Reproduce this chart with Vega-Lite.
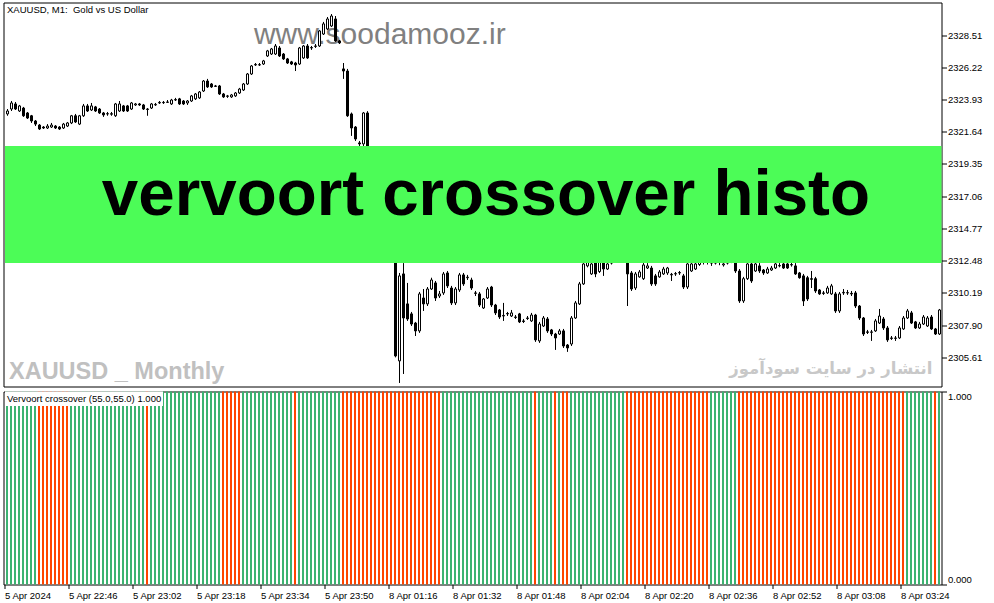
{
"$schema":"https://vega.github.io/schema/vega-lite/v6.json",
"background":"white",
"padding":{"left":2.5,"top":1.5,"right":0,"bottom":0},
"config":{"view":{"stroke":"black","strokeWidth":1},"axis":{"labelFont":"Liberation Sans","labelFontSize":9.5,"labelColor":"black","tickColor":"black","grid":false,"domain":false,"title":null,"labelOverlap":false},"axisY":{"labelOverlap":false,"labelSeparation":0}},
"datasets":{"k":[
{"i":0,"o":2322.90,"h":2323.25,"l":2322.77,"c":2323.11,"s":"g","v":1},
{"i":1,"o":2323.25,"h":2323.82,"l":2323.11,"c":2323.68,"s":"g","v":1},
{"i":2,"o":2323.61,"h":2323.75,"l":2323.18,"c":2323.25,"s":"g","v":1},
{"i":3,"o":2323.11,"h":2323.54,"l":2323.04,"c":2323.47,"s":"g","v":1},
{"i":4,"o":2323.32,"h":2323.40,"l":2322.69,"c":2322.77,"s":"g","v":1},
{"i":5,"o":2322.97,"h":2323.04,"l":2322.54,"c":2322.61,"s":"g","v":1},
{"i":6,"o":2322.77,"h":2322.83,"l":2322.26,"c":2322.40,"s":"g","v":1},
{"i":7,"o":2322.40,"h":2322.47,"l":2322.04,"c":2322.18,"s":"g","v":1},
{"i":8,"o":2322.11,"h":2322.18,"l":2321.76,"c":2321.83,"s":"r","v":1},
{"i":9,"o":2321.97,"h":2322.04,"l":2321.83,"c":2321.90,"s":"r","v":1},
{"i":10,"o":2321.90,"h":2322.18,"l":2321.83,"c":2322.04,"s":"r","v":1},
{"i":11,"o":2321.97,"h":2322.26,"l":2321.90,"c":2322.11,"s":"r","v":1},
{"i":12,"o":2322.04,"h":2322.11,"l":2321.83,"c":2321.90,"s":"r","v":1},
{"i":13,"o":2321.97,"h":2322.04,"l":2321.76,"c":2321.83,"s":"r","v":1},
{"i":14,"o":2321.90,"h":2322.26,"l":2321.83,"c":2322.18,"s":"r","v":1},
{"i":15,"o":2322.04,"h":2322.33,"l":2321.97,"c":2322.26,"s":"r","v":1},
{"i":16,"o":2322.26,"h":2322.83,"l":2322.18,"c":2322.77,"s":"g","v":1},
{"i":17,"o":2322.77,"h":2322.90,"l":2322.26,"c":2322.33,"s":"g","v":1},
{"i":18,"o":2322.18,"h":2322.83,"l":2322.11,"c":2322.77,"s":"g","v":1},
{"i":19,"o":2322.77,"h":2323.61,"l":2322.69,"c":2323.47,"s":"g","v":1},
{"i":20,"o":2323.47,"h":2323.61,"l":2323.04,"c":2323.11,"s":"g","v":1},
{"i":21,"o":2323.18,"h":2323.68,"l":2323.11,"c":2323.47,"s":"g","v":1},
{"i":22,"o":2323.40,"h":2323.47,"l":2323.04,"c":2323.11,"s":"g","v":1},
{"i":23,"o":2323.25,"h":2323.32,"l":2322.90,"c":2322.97,"s":"g","v":1},
{"i":24,"o":2322.97,"h":2323.04,"l":2322.69,"c":2322.83,"s":"g","v":1},
{"i":25,"o":2322.90,"h":2323.04,"l":2322.77,"c":2322.92,"s":"g","v":1},
{"i":26,"o":2322.88,"h":2323.04,"l":2322.77,"c":2322.92,"s":"g","v":1},
{"i":27,"o":2322.77,"h":2323.68,"l":2322.69,"c":2323.61,"s":"g","v":1},
{"i":28,"o":2323.11,"h":2323.82,"l":2323.04,"c":2323.61,"s":"g","v":1},
{"i":29,"o":2323.47,"h":2323.54,"l":2323.04,"c":2323.11,"s":"g","v":1},
{"i":30,"o":2323.47,"h":2323.54,"l":2323.04,"c":2323.11,"s":"g","v":1},
{"i":31,"o":2323.25,"h":2323.75,"l":2323.18,"c":2323.68,"s":"g","v":1},
{"i":32,"o":2323.54,"h":2323.68,"l":2323.47,"c":2323.61,"s":"g","v":1},
{"i":33,"o":2323.61,"h":2323.68,"l":2323.47,"c":2323.54,"s":"g","v":1},
{"i":34,"o":2323.54,"h":2323.61,"l":2323.18,"c":2323.25,"s":"g","v":1},
{"i":35,"o":2323.25,"h":2323.32,"l":2322.77,"c":2323.22,"s":"r","v":1},
{"i":36,"o":2323.32,"h":2323.68,"l":2323.25,"c":2323.61,"s":"g","v":1},
{"i":37,"o":2323.54,"h":2323.68,"l":2323.47,"c":2323.58,"s":"g","v":1},
{"i":38,"o":2323.68,"h":2323.82,"l":2323.61,"c":2323.72,"s":"g","v":1},
{"i":39,"o":2323.72,"h":2323.82,"l":2323.61,"c":2323.70,"s":"g","v":1},
{"i":40,"o":2323.72,"h":2323.89,"l":2323.68,"c":2323.75,"s":"g","v":1},
{"i":41,"o":2323.61,"h":2323.97,"l":2323.54,"c":2323.89,"s":"g","v":1},
{"i":42,"o":2323.89,"h":2324.04,"l":2323.82,"c":2323.92,"s":"g","v":1},
{"i":43,"o":2323.97,"h":2324.04,"l":2323.54,"c":2323.61,"s":"g","v":1},
{"i":44,"o":2323.82,"h":2323.89,"l":2323.54,"c":2323.61,"s":"g","v":1},
{"i":45,"o":2323.68,"h":2323.89,"l":2323.54,"c":2323.82,"s":"g","v":1},
{"i":46,"o":2323.82,"h":2324.25,"l":2323.75,"c":2324.18,"s":"g","v":1},
{"i":47,"o":2323.97,"h":2324.39,"l":2323.89,"c":2324.32,"s":"g","v":1},
{"i":48,"o":2324.04,"h":2324.53,"l":2323.97,"c":2324.46,"s":"g","v":1},
{"i":49,"o":2324.53,"h":2325.31,"l":2324.46,"c":2325.24,"s":"g","v":1},
{"i":50,"o":2325.24,"h":2325.39,"l":2324.75,"c":2324.82,"s":"g","v":1},
{"i":51,"o":2325.03,"h":2325.10,"l":2324.75,"c":2324.82,"s":"g","v":1},
{"i":52,"o":2324.89,"h":2324.96,"l":2324.82,"c":2324.86,"s":"g","v":1},
{"i":53,"o":2324.89,"h":2324.96,"l":2324.25,"c":2324.32,"s":"g","v":1},
{"i":54,"o":2324.32,"h":2324.39,"l":2324.04,"c":2324.11,"s":"r","v":1},
{"i":55,"o":2324.15,"h":2324.25,"l":2324.04,"c":2324.18,"s":"r","v":1},
{"i":56,"o":2324.11,"h":2324.32,"l":2324.04,"c":2324.25,"s":"r","v":1},
{"i":57,"o":2324.18,"h":2324.46,"l":2324.11,"c":2324.39,"s":"r","v":1},
{"i":58,"o":2324.39,"h":2324.75,"l":2324.32,"c":2324.67,"s":"r","v":1},
{"i":59,"o":2324.60,"h":2325.10,"l":2324.53,"c":2325.03,"s":"g","v":1},
{"i":60,"o":2325.03,"h":2325.81,"l":2324.96,"c":2325.74,"s":"g","v":1},
{"i":61,"o":2325.74,"h":2326.38,"l":2325.67,"c":2326.31,"s":"g","v":1},
{"i":62,"o":2326.38,"h":2326.52,"l":2326.31,"c":2326.42,"s":"g","v":1},
{"i":63,"o":2326.40,"h":2326.52,"l":2326.31,"c":2326.38,"s":"g","v":1},
{"i":64,"o":2326.45,"h":2326.74,"l":2326.38,"c":2326.67,"s":"g","v":1},
{"i":65,"o":2327.02,"h":2327.45,"l":2326.95,"c":2327.38,"s":"g","v":1},
{"i":66,"o":2327.16,"h":2327.59,"l":2327.09,"c":2327.52,"s":"g","v":1},
{"i":67,"o":2327.16,"h":2327.87,"l":2327.09,"c":2327.73,"s":"g","v":1},
{"i":68,"o":2327.59,"h":2327.73,"l":2326.95,"c":2327.02,"s":"g","v":1},
{"i":69,"o":2327.16,"h":2327.23,"l":2326.74,"c":2326.81,"s":"g","v":1},
{"i":70,"o":2326.81,"h":2326.88,"l":2326.45,"c":2326.52,"s":"g","v":1},
{"i":71,"o":2326.60,"h":2326.67,"l":2326.38,"c":2326.45,"s":"g","v":1},
{"i":72,"o":2326.52,"h":2326.60,"l":2325.95,"c":2326.38,"s":"r","v":1},
{"i":73,"o":2326.45,"h":2327.66,"l":2326.38,"c":2327.59,"s":"g","v":1},
{"i":74,"o":2326.88,"h":2327.80,"l":2326.81,"c":2327.73,"s":"g","v":1},
{"i":75,"o":2327.73,"h":2327.87,"l":2326.81,"c":2326.88,"s":"g","v":1},
{"i":76,"o":2327.59,"h":2327.73,"l":2327.45,"c":2327.62,"s":"g","v":1},
{"i":77,"o":2327.70,"h":2327.87,"l":2327.59,"c":2327.73,"s":"g","v":1},
{"i":78,"o":2327.73,"h":2328.87,"l":2327.66,"c":2328.80,"s":"g","v":1},
{"i":79,"o":2328.58,"h":2329.44,"l":2328.51,"c":2329.30,"s":"g","v":1},
{"i":80,"o":2328.94,"h":2329.79,"l":2328.87,"c":2329.65,"s":"g","v":1},
{"i":81,"o":2329.15,"h":2330.00,"l":2329.08,"c":2329.86,"s":"g","v":1},
{"i":82,"o":2329.65,"h":2329.86,"l":2328.02,"c":2328.09,"s":"g","v":1},
{"i":83,"o":2328.09,"h":2328.16,"l":2327.87,"c":2327.95,"s":"g","v":1},
{"i":84,"o":2326.10,"h":2326.52,"l":2325.39,"c":2325.95,"s":"r","v":1},
{"i":85,"o":2325.95,"h":2326.10,"l":2322.69,"c":2322.77,"s":"r","v":1},
{"i":86,"o":2322.90,"h":2323.00,"l":2321.34,"c":2321.90,"s":"r","v":1},
{"i":87,"o":2321.97,"h":2322.04,"l":2320.98,"c":2321.12,"s":"r","v":1},
{"i":88,"o":2320.84,"h":2320.98,"l":2320.62,"c":2320.77,"s":"r","v":1},
{"i":89,"o":2320.77,"h":2323.04,"l":2320.62,"c":2322.97,"s":"r","v":1},
{"i":90,"o":2322.97,"h":2323.10,"l":2319.90,"c":2320.20,"s":"r","v":1},
{"i":91,"o":2320.20,"h":2320.50,"l":2318.20,"c":2318.50,"s":"r","v":1},
{"i":92,"o":2318.50,"h":2318.80,"l":2316.60,"c":2317.00,"s":"r","v":1},
{"i":93,"o":2317.00,"h":2318.20,"l":2316.80,"c":2317.80,"s":"r","v":1},
{"i":94,"o":2317.80,"h":2318.00,"l":2315.20,"c":2315.50,"s":"r","v":1},
{"i":95,"o":2315.50,"h":2315.80,"l":2313.60,"c":2314.00,"s":"r","v":1},
{"i":96,"o":2314.00,"h":2314.30,"l":2312.50,"c":2312.80,"s":"r","v":1},
{"i":97,"o":2312.60,"h":2312.90,"l":2305.60,"c":2305.70,"s":"r","v":1},
{"i":98,"o":2305.35,"h":2311.60,"l":2303.78,"c":2311.39,"s":"r","v":1},
{"i":99,"o":2311.53,"h":2312.30,"l":2304.42,"c":2308.40,"s":"r","v":1},
{"i":100,"o":2309.40,"h":2310.89,"l":2308.19,"c":2308.33,"s":"r","v":1},
{"i":101,"o":2308.69,"h":2308.83,"l":2307.83,"c":2307.97,"s":"r","v":1},
{"i":102,"o":2308.04,"h":2308.12,"l":2307.12,"c":2307.48,"s":"r","v":1},
{"i":103,"o":2307.48,"h":2310.25,"l":2307.34,"c":2310.11,"s":"r","v":1},
{"i":104,"o":2309.82,"h":2310.46,"l":2308.90,"c":2309.40,"s":"r","v":1},
{"i":105,"o":2309.40,"h":2310.60,"l":2309.25,"c":2310.46,"s":"r","v":1},
{"i":106,"o":2310.46,"h":2311.26,"l":2310.39,"c":2311.10,"s":"r","v":1},
{"i":107,"o":2310.89,"h":2311.03,"l":2309.61,"c":2309.82,"s":"r","v":1},
{"i":108,"o":2309.96,"h":2310.32,"l":2309.82,"c":2310.11,"s":"r","v":1},
{"i":109,"o":2310.18,"h":2311.67,"l":2310.04,"c":2311.53,"s":"g","v":1},
{"i":110,"o":2311.60,"h":2311.74,"l":2310.53,"c":2310.68,"s":"g","v":1},
{"i":111,"o":2310.53,"h":2310.68,"l":2309.32,"c":2309.47,"s":"g","v":1},
{"i":112,"o":2309.47,"h":2310.60,"l":2309.32,"c":2310.46,"s":"g","v":1},
{"i":113,"o":2310.39,"h":2311.60,"l":2310.25,"c":2311.46,"s":"g","v":1},
{"i":114,"o":2311.46,"h":2311.60,"l":2310.68,"c":2310.82,"s":"g","v":1},
{"i":115,"o":2311.26,"h":2311.46,"l":2311.10,"c":2311.30,"s":"g","v":1},
{"i":116,"o":2311.10,"h":2311.26,"l":2310.39,"c":2310.53,"s":"g","v":1},
{"i":117,"o":2310.18,"h":2310.32,"l":2309.96,"c":2310.15,"s":"g","v":1},
{"i":118,"o":2310.11,"h":2310.25,"l":2309.18,"c":2309.32,"s":"g","v":1},
{"i":119,"o":2309.11,"h":2309.82,"l":2309.04,"c":2309.75,"s":"g","v":1},
{"i":120,"o":2309.82,"h":2310.60,"l":2309.75,"c":2310.46,"s":"g","v":1},
{"i":121,"o":2310.60,"h":2310.68,"l":2309.18,"c":2309.32,"s":"g","v":1},
{"i":122,"o":2309.32,"h":2309.40,"l":2308.61,"c":2308.76,"s":"g","v":1},
{"i":123,"o":2308.97,"h":2309.04,"l":2308.33,"c":2308.47,"s":"g","v":1},
{"i":124,"o":2308.54,"h":2309.47,"l":2308.19,"c":2308.58,"s":"g","v":1},
{"i":125,"o":2308.72,"h":2308.83,"l":2308.54,"c":2308.69,"s":"g","v":1},
{"i":126,"o":2308.54,"h":2308.97,"l":2308.47,"c":2308.76,"s":"g","v":1},
{"i":127,"o":2308.47,"h":2308.61,"l":2308.33,"c":2308.44,"s":"g","v":1},
{"i":128,"o":2308.69,"h":2308.76,"l":2308.04,"c":2308.12,"s":"g","v":1},
{"i":129,"o":2308.19,"h":2308.33,"l":2308.04,"c":2308.15,"s":"g","v":1},
{"i":130,"o":2308.36,"h":2308.54,"l":2308.26,"c":2308.40,"s":"g","v":1},
{"i":131,"o":2308.19,"h":2308.76,"l":2308.12,"c":2308.61,"s":"g","v":1},
{"i":132,"o":2308.61,"h":2308.69,"l":2306.70,"c":2306.84,"s":"r","v":1},
{"i":133,"o":2306.77,"h":2308.12,"l":2306.63,"c":2307.97,"s":"g","v":1},
{"i":134,"o":2307.83,"h":2308.54,"l":2307.76,"c":2308.40,"s":"g","v":1},
{"i":135,"o":2308.33,"h":2308.47,"l":2307.34,"c":2307.48,"s":"g","v":1},
{"i":136,"o":2307.55,"h":2307.62,"l":2307.12,"c":2307.26,"s":"g","v":1},
{"i":137,"o":2307.26,"h":2307.34,"l":2306.13,"c":2306.98,"s":"r","v":1},
{"i":138,"o":2307.26,"h":2307.62,"l":2307.19,"c":2307.48,"s":"g","v":1},
{"i":139,"o":2307.48,"h":2307.62,"l":2306.27,"c":2306.41,"s":"r","v":1},
{"i":140,"o":2306.48,"h":2306.55,"l":2305.99,"c":2306.27,"s":"r","v":1},
{"i":141,"o":2306.55,"h":2308.54,"l":2306.41,"c":2308.40,"s":"g","v":1},
{"i":142,"o":2308.40,"h":2309.61,"l":2308.33,"c":2309.47,"s":"g","v":1},
{"i":143,"o":2309.40,"h":2310.96,"l":2309.32,"c":2310.82,"s":"g","v":1},
{"i":144,"o":2310.82,"h":2312.45,"l":2310.75,"c":2312.24,"s":"g","v":1},
{"i":145,"o":2312.10,"h":2312.90,"l":2312.00,"c":2312.59,"s":"g","v":1},
{"i":146,"o":2311.53,"h":2312.60,"l":2311.46,"c":2312.24,"s":"g","v":1},
{"i":147,"o":2312.31,"h":2312.60,"l":2311.30,"c":2311.53,"s":"g","v":1},
{"i":148,"o":2311.70,"h":2312.80,"l":2311.60,"c":2312.50,"s":"g","v":1},
{"i":149,"o":2312.31,"h":2312.60,"l":2311.39,"c":2311.88,"s":"g","v":1},
{"i":150,"o":2311.88,"h":2312.70,"l":2311.81,"c":2312.24,"s":"g","v":1},
{"i":151,"o":2312.30,"h":2313.30,"l":2312.20,"c":2313.00,"s":"g","v":1},
{"i":152,"o":2313.00,"h":2313.80,"l":2312.80,"c":2313.50,"s":"g","v":1},
{"i":153,"o":2313.50,"h":2313.90,"l":2312.90,"c":2313.20,"s":"g","v":1},
{"i":154,"o":2313.20,"h":2313.50,"l":2312.60,"c":2312.80,"s":"g","v":1},
{"i":155,"o":2312.31,"h":2312.80,"l":2309.25,"c":2311.53,"s":"r","v":1},
{"i":156,"o":2311.60,"h":2311.74,"l":2310.32,"c":2310.46,"s":"r","v":1},
{"i":157,"o":2310.53,"h":2311.67,"l":2310.39,"c":2311.53,"s":"r","v":1},
{"i":158,"o":2311.32,"h":2311.81,"l":2311.26,"c":2311.67,"s":"r","v":1},
{"i":159,"o":2311.19,"h":2312.40,"l":2311.10,"c":2312.17,"s":"r","v":1},
{"i":160,"o":2311.95,"h":2312.30,"l":2311.88,"c":2312.10,"s":"r","v":1},
{"i":161,"o":2311.95,"h":2312.10,"l":2310.68,"c":2310.82,"s":"r","v":1},
{"i":162,"o":2311.39,"h":2311.53,"l":2310.68,"c":2310.82,"s":"r","v":1},
{"i":163,"o":2311.32,"h":2311.81,"l":2311.26,"c":2311.67,"s":"r","v":1},
{"i":164,"o":2311.53,"h":2312.03,"l":2311.46,"c":2311.88,"s":"r","v":1},
{"i":165,"o":2311.60,"h":2312.03,"l":2311.46,"c":2311.95,"s":"r","v":1},
{"i":166,"o":2311.46,"h":2311.60,"l":2311.03,"c":2311.50,"s":"r","v":1},
{"i":167,"o":2311.55,"h":2311.67,"l":2311.39,"c":2311.53,"s":"r","v":1},
{"i":168,"o":2311.60,"h":2311.74,"l":2311.46,"c":2311.63,"s":"r","v":1},
{"i":169,"o":2311.39,"h":2311.53,"l":2310.46,"c":2310.60,"s":"r","v":1},
{"i":170,"o":2310.60,"h":2312.50,"l":2310.46,"c":2312.24,"s":"r","v":1},
{"i":171,"o":2311.74,"h":2312.60,"l":2311.67,"c":2312.24,"s":"r","v":1},
{"i":172,"o":2311.88,"h":2312.70,"l":2311.81,"c":2312.24,"s":"r","v":1},
{"i":173,"o":2312.20,"h":2312.90,"l":2312.10,"c":2312.60,"s":"r","v":1},
{"i":174,"o":2312.60,"h":2312.90,"l":2312.20,"c":2312.40,"s":"r","v":1},
{"i":175,"o":2312.40,"h":2313.00,"l":2312.20,"c":2312.70,"s":"r","v":1},
{"i":176,"o":2312.70,"h":2312.90,"l":2312.10,"c":2312.30,"s":"g","v":1},
{"i":177,"o":2312.30,"h":2312.90,"l":2312.20,"c":2312.60,"s":"g","v":1},
{"i":178,"o":2312.60,"h":2312.80,"l":2312.15,"c":2312.50,"s":"g","v":1},
{"i":179,"o":2312.17,"h":2312.50,"l":2312.05,"c":2312.24,"s":"g","v":1},
{"i":180,"o":2312.30,"h":2313.00,"l":2312.20,"c":2312.80,"s":"g","v":1},
{"i":181,"o":2312.80,"h":2313.00,"l":2312.30,"c":2312.50,"s":"g","v":1},
{"i":182,"o":2312.31,"h":2312.60,"l":2311.60,"c":2311.74,"s":"g","v":1},
{"i":183,"o":2311.74,"h":2311.88,"l":2309.47,"c":2309.61,"s":"r","v":1},
{"i":184,"o":2309.61,"h":2311.32,"l":2309.47,"c":2311.19,"s":"r","v":1},
{"i":185,"o":2311.19,"h":2312.50,"l":2311.10,"c":2312.24,"s":"r","v":1},
{"i":186,"o":2312.24,"h":2312.50,"l":2310.89,"c":2311.03,"s":"r","v":1},
{"i":187,"o":2311.74,"h":2312.50,"l":2311.67,"c":2312.24,"s":"r","v":1},
{"i":188,"o":2312.10,"h":2312.30,"l":2311.60,"c":2311.74,"s":"r","v":1},
{"i":189,"o":2311.81,"h":2311.88,"l":2311.46,"c":2311.60,"s":"r","v":1},
{"i":190,"o":2311.60,"h":2312.03,"l":2311.53,"c":2311.88,"s":"r","v":1},
{"i":191,"o":2311.81,"h":2312.10,"l":2311.74,"c":2311.95,"s":"r","v":1},
{"i":192,"o":2311.95,"h":2312.40,"l":2311.88,"c":2312.24,"s":"r","v":1},
{"i":193,"o":2312.10,"h":2312.30,"l":2312.00,"c":2312.13,"s":"r","v":1},
{"i":194,"o":2312.24,"h":2312.40,"l":2311.88,"c":2311.95,"s":"r","v":1},
{"i":195,"o":2312.24,"h":2312.40,"l":2311.88,"c":2311.95,"s":"r","v":1},
{"i":196,"o":2312.17,"h":2312.35,"l":2312.05,"c":2312.20,"s":"r","v":1},
{"i":197,"o":2312.10,"h":2312.30,"l":2311.46,"c":2311.53,"s":"r","v":1},
{"i":198,"o":2311.60,"h":2311.67,"l":2311.19,"c":2311.26,"s":"r","v":1},
{"i":199,"o":2311.39,"h":2311.53,"l":2309.25,"c":2309.61,"s":"r","v":1},
{"i":200,"o":2311.26,"h":2311.39,"l":2309.61,"c":2309.75,"s":"r","v":1},
{"i":201,"o":2311.19,"h":2311.74,"l":2310.53,"c":2311.15,"s":"r","v":1},
{"i":202,"o":2311.19,"h":2311.32,"l":2310.18,"c":2310.32,"s":"r","v":1},
{"i":203,"o":2310.39,"h":2310.46,"l":2310.04,"c":2310.11,"s":"r","v":1},
{"i":204,"o":2310.18,"h":2310.32,"l":2310.04,"c":2310.15,"s":"r","v":1},
{"i":205,"o":2310.18,"h":2310.68,"l":2310.11,"c":2310.53,"s":"r","v":1},
{"i":206,"o":2310.11,"h":2310.82,"l":2310.04,"c":2310.68,"s":"r","v":1},
{"i":207,"o":2310.11,"h":2310.25,"l":2308.76,"c":2308.90,"s":"r","v":1},
{"i":208,"o":2308.90,"h":2310.25,"l":2308.76,"c":2310.11,"s":"r","v":1},
{"i":209,"o":2310.18,"h":2310.46,"l":2310.04,"c":2310.22,"s":"r","v":1},
{"i":210,"o":2310.20,"h":2310.39,"l":2310.04,"c":2310.18,"s":"r","v":1},
{"i":211,"o":2310.15,"h":2310.32,"l":2309.96,"c":2310.11,"s":"r","v":1},
{"i":212,"o":2310.18,"h":2310.32,"l":2309.11,"c":2309.25,"s":"r","v":1},
{"i":213,"o":2309.25,"h":2309.32,"l":2308.26,"c":2308.40,"s":"r","v":1},
{"i":214,"o":2308.40,"h":2308.47,"l":2307.12,"c":2307.26,"s":"r","v":1},
{"i":215,"o":2307.41,"h":2307.55,"l":2307.26,"c":2307.38,"s":"r","v":1},
{"i":216,"o":2307.38,"h":2307.55,"l":2306.77,"c":2307.41,"s":"r","v":1},
{"i":217,"o":2307.48,"h":2308.33,"l":2307.41,"c":2308.19,"s":"r","v":1},
{"i":218,"o":2308.04,"h":2309.04,"l":2307.97,"c":2308.54,"s":"r","v":1},
{"i":219,"o":2308.33,"h":2308.47,"l":2307.55,"c":2307.69,"s":"r","v":1},
{"i":220,"o":2307.69,"h":2307.83,"l":2306.70,"c":2306.84,"s":"r","v":1},
{"i":221,"o":2306.98,"h":2307.12,"l":2306.84,"c":2306.95,"s":"r","v":1},
{"i":222,"o":2306.95,"h":2307.12,"l":2306.77,"c":2306.98,"s":"r","v":1},
{"i":223,"o":2306.98,"h":2307.83,"l":2306.91,"c":2307.69,"s":"r","v":1},
{"i":224,"o":2307.62,"h":2308.54,"l":2307.55,"c":2308.40,"s":"r","v":1},
{"i":225,"o":2308.40,"h":2309.04,"l":2308.33,"c":2308.90,"s":"g","v":1},
{"i":226,"o":2308.76,"h":2308.90,"l":2307.97,"c":2308.04,"s":"g","v":1},
{"i":227,"o":2308.12,"h":2308.19,"l":2307.62,"c":2307.69,"s":"g","v":1},
{"i":228,"o":2307.69,"h":2308.12,"l":2307.62,"c":2307.97,"s":"g","v":1},
{"i":229,"o":2307.97,"h":2308.61,"l":2307.90,"c":2308.47,"s":"g","v":1},
{"i":230,"o":2307.83,"h":2308.54,"l":2307.76,"c":2308.40,"s":"g","v":1},
{"i":231,"o":2308.47,"h":2308.61,"l":2307.55,"c":2307.62,"s":"g","v":1},
{"i":232,"o":2307.62,"h":2307.69,"l":2307.19,"c":2307.26,"s":"r","v":1},
{"i":233,"o":2307.26,"h":2309.04,"l":2307.19,"c":2308.97,"s":"g","v":1}
]},
"spacing":3,
"resolve":{"scale":{"x":"independent","y":"independent"}},
"vconcat":[
{
"width":938,"height":384,
"layer":[
{"data":{"values":[{"x":61.6,"y":2327.84,"t":"www.soodamooz.ir"}]},
 "mark":{"type":"text","align":"left","baseline":"alphabetic","font":"Liberation Sans","fontSize":30,"fill":"#808080"},
 "encoding":{"x":{"field":"x","type":"quantitative","scale":{"domain":[-1,233.5],"nice":false,"zero":false,"padding":0},"axis":null},
  "y":{"field":"y","type":"quantitative","scale":{"domain":[2303.53,2330.82],"nice":false,"zero":false,"padding":0},"axis":{"orient":"right","values":[2305.61,2307.90,2310.19,2312.48,2314.77,2317.06,2319.35,2321.64,2323.93,2326.22,2328.51],"format":".2f","tickSize":5,"labelPadding":1,"labelBaseline":"middle","labelOverlap":false,"labelBound":false,"labelSeparation":0}},
  "text":{"field":"t"}}},
{"data":{"values":[{"x":0.375,"y":2304.03,"t":"XAUUSD _ Monthly"}]},
 "mark":{"type":"text","align":"left","baseline":"alphabetic","font":"Liberation Sans","fontWeight":"bold","fontSize":23.5,"fill":"#c0c0c0"},
 "encoding":{"x":{"field":"x","type":"quantitative","axis":null},"y":{"field":"y","type":"quantitative","axis":{"orient":"right","values":[2305.61,2307.90,2310.19,2312.48,2314.77,2317.06,2319.35,2321.64,2323.93,2326.22,2328.51],"format":".2f","tickSize":5,"labelPadding":1,"labelBaseline":"middle","labelOverlap":false,"labelBound":false,"labelSeparation":0}},"text":{"field":"t"}}},
{"data":{"values":[{"x":231.2,"y":2304.78,"t":"انتشار در سایت سودآموز"}]},
 "mark":{"type":"text","align":"right","baseline":"middle","font":"DejaVu Sans","fontWeight":"bold","fontSize":16.5,"fill":"#c8c8c8"},
 "encoding":{"x":{"field":"x","type":"quantitative","axis":null},"y":{"field":"y","type":"quantitative","axis":{"orient":"right","values":[2305.61,2307.90,2310.19,2312.48,2314.77,2317.06,2319.35,2321.64,2323.93,2326.22,2328.51],"format":".2f","tickSize":5,"labelPadding":1,"labelBaseline":"middle","labelOverlap":false,"labelBound":false,"labelSeparation":0}},"text":{"field":"t"}}},
{"data":{"values":[{"x":-0.125,"y":2330.29,"t":"XAUUSD, M1:\u00a0 Gold vs US Dollar"}]},
 "mark":{"type":"text","align":"left","baseline":"middle","font":"Liberation Sans","fontSize":9.5,"fill":"black"},
 "encoding":{"x":{"field":"x","type":"quantitative","axis":null},"y":{"field":"y","type":"quantitative","axis":{"orient":"right","values":[2305.61,2307.90,2310.19,2312.48,2314.77,2317.06,2319.35,2321.64,2323.93,2326.22,2328.51],"format":".2f","tickSize":5,"labelPadding":1,"labelBaseline":"middle","labelOverlap":false,"labelBound":false,"labelSeparation":0}},"text":{"field":"t"}}},
{"data":{"name":"k"},
 "mark":{"type":"rule","color":"black","strokeWidth":1},
 "encoding":{"x":{"field":"i","type":"quantitative","axis":null},"y":{"field":"l","type":"quantitative","axis":{"orient":"right","values":[2305.61,2307.90,2310.19,2312.48,2314.77,2317.06,2319.35,2321.64,2323.93,2326.22,2328.51],"format":".2f","tickSize":5,"labelPadding":1,"labelBaseline":"middle","labelOverlap":false,"labelBound":false,"labelSeparation":0}},"y2":{"field":"h"}}},
{"data":{"name":"k"},
 "mark":{"type":"bar","width":2,"stroke":"black","strokeWidth":1},
 "encoding":{"x":{"field":"i","type":"quantitative","axis":null},"y":{"field":"o","type":"quantitative","axis":{"orient":"right","values":[2305.61,2307.90,2310.19,2312.48,2314.77,2317.06,2319.35,2321.64,2323.93,2326.22,2328.51],"format":".2f","tickSize":5,"labelPadding":1,"labelBaseline":"middle","labelOverlap":false,"labelBound":false,"labelSeparation":0}},"y2":{"field":"c"},
  "fill":{"condition":{"test":"datum.c >= datum.o","value":"white"},"value":"black"}}},
{"data":{"values":[{"x1":-0.625,"x2":233.5,"y1":2312.31,"y2":2320.62}]},
 "mark":{"type":"rect","fill":"#4CFC57"},
 "encoding":{"x":{"field":"x1","type":"quantitative","axis":null},"x2":{"field":"x2"},"y":{"field":"y1","type":"quantitative","axis":{"orient":"right","values":[2305.61,2307.90,2310.19,2312.48,2314.77,2317.06,2319.35,2321.64,2323.93,2326.22,2328.51],"format":".2f","tickSize":5,"labelPadding":1,"labelBaseline":"middle","labelOverlap":false,"labelBound":false,"labelSeparation":0}},"y2":{"field":"y2"}}},
{"data":{"values":[{"x":119.6,"y":2315.72,"t":"vervoort crossover histo"}]},
 "mark":{"type":"text","align":"center","baseline":"alphabetic","font":"Liberation Sans","fontWeight":"bold","fontSize":65.5,"fill":"black"},
 "encoding":{"x":{"field":"x","type":"quantitative","axis":null},"y":{"field":"y","type":"quantitative","axis":{"orient":"right","values":[2305.61,2307.90,2310.19,2312.48,2314.77,2317.06,2319.35,2321.64,2323.93,2326.22,2328.51],"format":".2f","tickSize":5,"labelPadding":1,"labelBaseline":"middle","labelOverlap":false,"labelBound":false,"labelSeparation":0}},"text":{"field":"t"}}}
]},
{
"width":938,"height":193,
"layer":[
{"data":{"name":"k"},
 "mark":{"type":"bar","width":2},
 "encoding":{"x":{"field":"i","type":"quantitative","scale":{"domain":[-0.875,233.625],"nice":false,"zero":false,"padding":0},
   "axis":{"orient":"bottom","values":[-0.625,15.375,31.375,47.375,63.375,79.375,95.375,111.375,127.375,143.375,159.375,175.375,191.375,207.375,223.375],
   "labelExpr":"['5 Apr 2024','5 Apr 22:46','5 Apr 23:02','5 Apr 23:18','5 Apr 23:34','5 Apr 23:50','8 Apr 01:16','8 Apr 01:32','8 Apr 01:48','8 Apr 02:04','8 Apr 02:20','8 Apr 02:36','8 Apr 02:52','8 Apr 03:08','8 Apr 03:24'][round((datum.value+0.625)/16)]",
   "tickSize":4,"labelAlign":"left","labelBaseline":"top","labelPadding":2,"labelOverlap":false,"labelBound":false,"labelFlush":false}},
  "y":{"field":"v","type":"quantitative","scale":{"domain":[0,1],"nice":false,"padding":0},
   "axis":{"orient":"right","values":[0,1],"format":".3f","tickSize":5,"labelPadding":1,"labelOverlap":false,
    "labelBaseline":{"condition":{"test":"datum.value > 0.5","value":"top"},"value":"bottom"}}},
  "color":{"field":"s","type":"nominal","scale":{"domain":["g","r"],"range":["#3CB371","#FF4500"]},"legend":null}}},
{"data":{"values":[{"x1":-0.5,"x2":39,"y1":0.925,"y2":1}]},
 "mark":{"type":"rect","fill":"white"},
 "encoding":{"x":{"field":"x1","type":"quantitative"},"x2":{"field":"x2"},"y":{"field":"y1","type":"quantitative"},"y2":{"field":"y2"}}},
{"data":{"values":[{"x":0,"y":0.961,"t":"Vervoort crossover (55.0,55.0) 1.000"}]},
 "mark":{"type":"text","align":"left","baseline":"middle","font":"Liberation Sans","fontSize":9.5,"fill":"black"},
 "encoding":{"x":{"field":"x","type":"quantitative"},"y":{"field":"y","type":"quantitative"},"text":{"field":"t"}}}
]}
]
}
